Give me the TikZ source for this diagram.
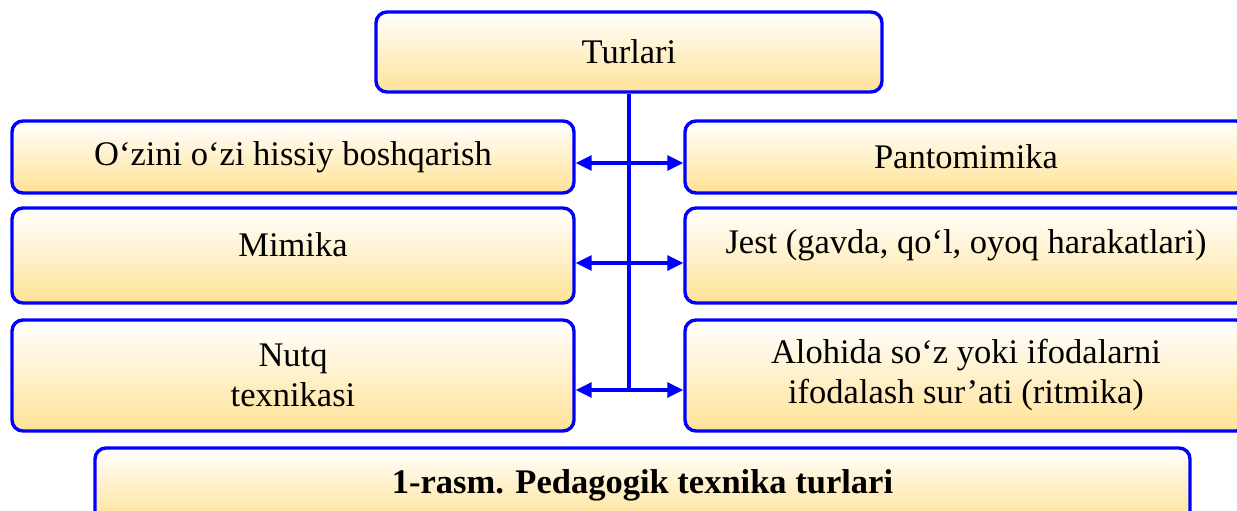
\documentclass[tikz,border=0pt]{standalone}
\usepackage{fontspec}
\setmainfont{Liberation Serif}
\usetikzlibrary{arrows.meta}
\definecolor{bblue}{RGB}{0,0,255}
\definecolor{boxbot}{RGB}{255,226,150}
\tikzset{
  box/.style={draw=bblue, line width=3.4pt, rounded corners=11pt,
    top color=white, bottom color=boxbot, inner sep=0pt,
    minimum width=562pt, align=center, font=\fontsize{34.5}{40}\selectfont},
  txt/.style={inner sep=0pt, align=center, font=\fontsize{34.5}{40}\selectfont},
  conn/.style={draw=bblue, line width=3.2pt},
  arr/.style={conn, -{Triangle[length=16pt,width=15pt]}},
}
\begin{document}
\begin{tikzpicture}[x=1pt,y=-1pt]
\useasboundingbox (0,0) rectangle (1237,511);
\clip (0,0) rectangle (1237,511);
\node[box, minimum width=506pt, minimum height=80pt] (top) at (629,52) {Turlari};
\node[box, minimum height=72pt] (l1) at (293,157) {O‘zini o‘zi hissiy boshqarish};
\node[box, minimum height=95pt] (l2) at (293,255.5) {};
\node[txt] (l2t) at (293,245) {Mimika};
\node[box, minimum height=111pt] (l3) at (293,375.5) {Nutq\\texnikasi};
\node[box, minimum height=72pt] (r1) at (966,157) {Pantomimika};
\node[box, minimum height=95pt] (r2) at (966,255.5) {};
\node[txt] (r2t) at (966,245) {Jest (gavda, qo‘l, oyoq harakatlari)};
\node[box, minimum height=111pt] (r3) at (966,375.5) {Alohida so‘z yoki ifodalarni\\ifodalash sur’ati (ritmika)};
\node[box, minimum width=1095pt, minimum height=74pt, font=\bfseries\fontsize{34.5}{40}\selectfont] (cap) at (642.5,485) {1-rasm. Pedagogik texnika turlari};
\coordinate (j1) at (629,163);
\coordinate (j2) at (629,263);
\coordinate (j3) at (629,390);
\draw[conn] (top.south) -- (j3);
\draw[arr] (j1) -- (l1.east |- j1);
\draw[arr] (j1) -- (r1.west |- j1);
\draw[arr] (j2) -- (l2.east |- j2);
\draw[arr] (j2) -- (r2.west |- j2);
\draw[arr] (j3) -- (l3.east |- j3);
\draw[arr] (j3) -- (r3.west |- j3);
\end{tikzpicture}
\end{document}
